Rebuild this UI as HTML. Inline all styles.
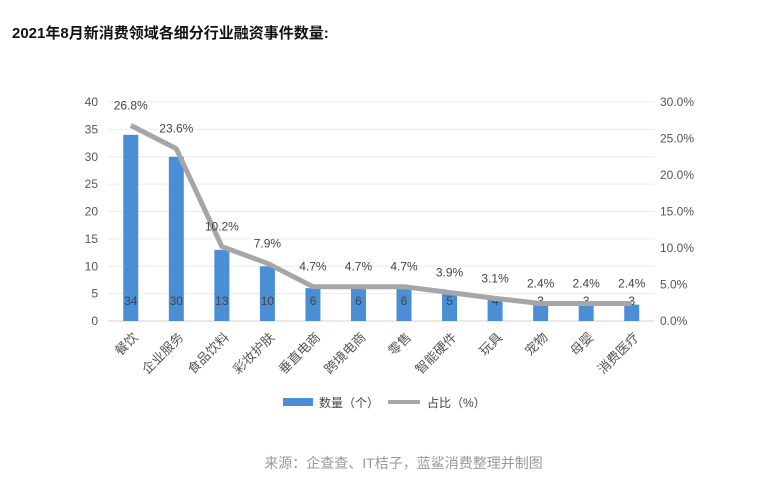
<!DOCTYPE html>
<html><head><meta charset="utf-8"><style>
body{margin:0;background:#fff;width:767px;height:488px;overflow:hidden;font-family:"Liberation Sans","Noto Sans CJK SC",sans-serif}
#title{position:absolute;left:12px;top:22px;font-size:15px;font-weight:bold;color:#111}
#src{position:absolute;left:20px;width:767px;top:453px;text-align:center;font-size:14px;color:#999}
</style></head><body>
<div id="title">2021年8月新消费领域各细分行业融资事件数量:</div>
<svg id="chart" width="767" height="488" style="position:absolute;left:0;top:0"></svg>
<div id="src">来源：企查查、IT桔子，蓝鲨消费整理并制图</div>
<script>
const categories=["餐饮","企业服务","食品饮料","彩妆护肤","垂直电商","跨境电商","零售","智能硬件","玩具","宠物","母婴","消费医疗"];
const counts=[34,30,13,10,6,6,6,5,4,3,3,3];
const shares=[26.8,23.6,10.2,7.9,4.7,4.7,4.7,3.9,3.1,2.4,2.4,2.4];
const leftTicks=[0,5,10,15,20,25,30,35,40];
const rightTicks=[0,5,10,15,20,25,30];
const NS="http://www.w3.org/2000/svg";
const svg=document.getElementById('chart');
const L=108,R=654.5,T=102,B=321;
const step=(R-L)/categories.length;
const xc=i=>L+step*(i+0.5);
const yl=v=>B-v/40*(B-T);
const yr=v=>B-v/30*(B-T);
function el(t,a,txt){const e=document.createElementNS(NS,t);for(const k in a)e.setAttribute(k,a[k]);if(txt!==undefined)e.textContent=txt;svg.appendChild(e);return e;}
const F='"Liberation Sans","Noto Sans CJK SC",sans-serif';
leftTicks.forEach(v=>{
 const g=el('line',{x1:L,x2:R,y1:yl(v),y2:yl(v),stroke:v==0?'#d0d0d0':'#ececec','stroke-width':1});
 
 const t=el('text',{x:98,y:yl(v)+4,'text-anchor':'end','font-size':12,fill:'#555','font-family':F},v);
 
});
rightTicks.forEach(v=>{
 const t=el('text',{x:660,y:yr(v)+4,'font-size':12,fill:'#555','font-family':F},v.toFixed(1)+'%');
 
});
counts.forEach((v,i)=>{
 const b=el('rect',{x:xc(i)-7.5,y:yl(v),width:15,height:B-yl(v),fill:'#4a8fd6'});
 
 const t=el('text',{x:xc(i),y:305,'text-anchor':'middle','font-size':12,fill:'#444','font-family':F},v);
 
 const c=el('text',{transform:`translate(${xc(i)+8},${B+17}) rotate(-45)`,'text-anchor':'end','font-size':13,fill:'#555','font-family':F},categories[i]);
 
});
const pts=shares.map((v,i)=>xc(i)+','+yr(v)).join(' ');
const pl=el('polyline',{points:pts,fill:'none',stroke:'#a6a6a6','stroke-width':5,'stroke-linejoin':'round'});

shares.forEach((v,i)=>{
 const t=el('text',{x:xc(i),y:yr(v)-16,'text-anchor':'middle','font-size':12,fill:'#444','font-family':F},v.toFixed(1)+'%');
 
});
const lb=el('rect',{x:283,y:398,width:30,height:8,fill:'#4a8fd6'});

const lt=el('text',{x:319,y:407,'font-size':12,fill:'#444','font-family':F},'数量（个）');

const ll=el('line',{x1:388,x2:420,y1:402,y2:402,stroke:'#a6a6a6','stroke-width':4});

const lt2=el('text',{x:427,y:407,'font-size':12,fill:'#444','font-family':F},'占比（%）');

</script>
</body></html>
